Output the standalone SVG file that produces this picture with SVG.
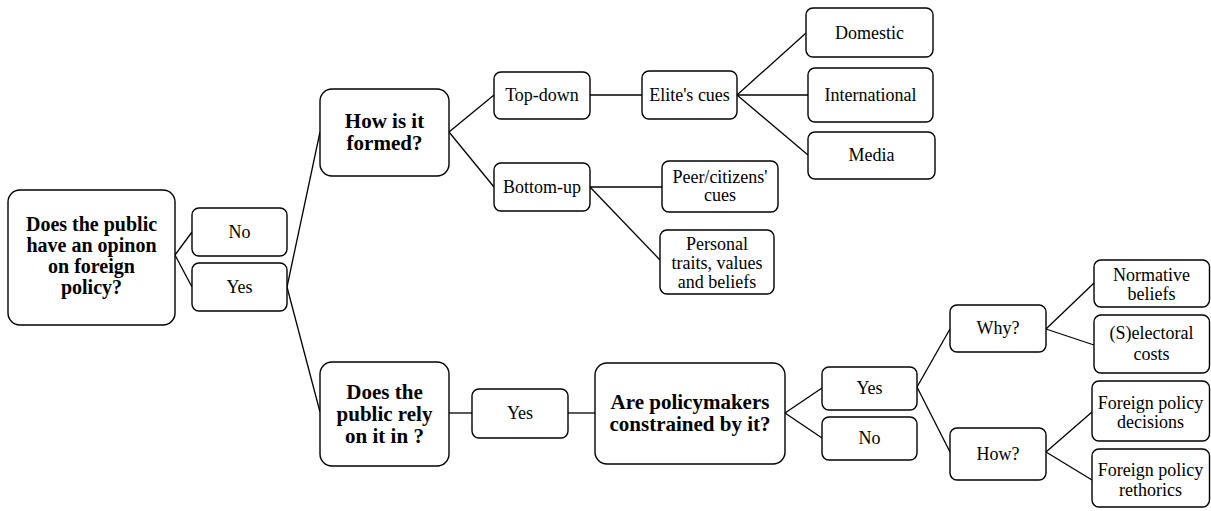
<svg xmlns="http://www.w3.org/2000/svg" width="1211" height="511" viewBox="0 0 1211 511">
<style>
rect{fill:#fff;stroke:#000;stroke-width:1.4}
text{font-family:'Liberation Serif','DejaVu Serif',serif;font-size:18px;text-anchor:middle;fill:#000}
.b{font-weight:bold;font-size:21px}
.m{font-size:20px}
#connectors line{stroke:#000;stroke-width:1.3}
</style>
<rect x="0" y="0" width="1211" height="511" style="fill:#fff;stroke:none"/>
<g id="connectors">
<line x1="175" y1="255" x2="192" y2="232"/>
<line x1="175" y1="255" x2="192" y2="287"/>
<line x1="287" y1="287" x2="320" y2="132"/>
<line x1="287" y1="287" x2="320" y2="412"/>
<line x1="449" y1="132" x2="494" y2="95"/>
<line x1="449" y1="132" x2="494" y2="187"/>
<line x1="590" y1="95" x2="642" y2="95"/>
<line x1="737" y1="95" x2="806" y2="33"/>
<line x1="737" y1="95" x2="808" y2="95"/>
<line x1="737" y1="95" x2="808" y2="155"/>
<line x1="590" y1="187" x2="662" y2="187"/>
<line x1="590" y1="187" x2="660" y2="260"/>
<line x1="449" y1="413" x2="472" y2="413"/>
<line x1="568" y1="413" x2="595" y2="413"/>
<line x1="785" y1="413" x2="822" y2="388"/>
<line x1="785" y1="413" x2="822" y2="438"/>
<line x1="917" y1="387" x2="950" y2="329"/>
<line x1="917" y1="387" x2="950" y2="452"/>
<line x1="1046" y1="329" x2="1094" y2="283"/>
<line x1="1046" y1="329" x2="1094" y2="345"/>
<line x1="1046" y1="452" x2="1092" y2="412"/>
<line x1="1046" y1="452" x2="1092" y2="480"/>
</g>
<g id="q-opinion"><rect x="8" y="190" width="167" height="135" rx="12"/>
<text class="b m" x="91.5" y="231">Does the public</text><text class="b m" x="91.5" y="252">have an opinon</text><text class="b m" x="91.5" y="273">on foreign</text><text class="b m" x="91.5" y="294">policy?</text></g>
<g id="no1"><rect x="192" y="208" width="95" height="48" rx="7"/><text x="239.5" y="238">No</text></g>
<g id="yes1"><rect x="192" y="263" width="95" height="48" rx="7"/><text x="239.5" y="293">Yes</text></g>
<g id="q-formed"><rect x="320" y="89" width="129" height="87" rx="12"/>
<text class="b" x="384.5" y="128">How is it</text><text class="b" x="384.5" y="150">formed?</text></g>
<g id="topdown"><rect x="494" y="72" width="96" height="47" rx="7"/><text x="542" y="101">Top-down</text></g>
<g id="bottomup"><rect x="494" y="163" width="96" height="48" rx="7"/><text x="542" y="193">Bottom-up</text></g>
<g id="elite"><rect x="642" y="71" width="95" height="48" rx="7"/><text x="689.5" y="101">Elite's cues</text></g>
<g id="domestic"><rect x="806" y="8" width="127" height="49" rx="7"/><text x="869.5" y="39">Domestic</text></g>
<g id="international"><rect x="808" y="68" width="125" height="54" rx="7"/><text x="870.5" y="101">International</text></g>
<g id="media"><rect x="808" y="132" width="127" height="47" rx="7"/><text x="871.5" y="161">Media</text></g>
<g id="peer"><rect x="662" y="161" width="116" height="51" rx="7"/><text x="720" y="183">Peer/citizens'</text><text x="720" y="201">cues</text></g>
<g id="personal"><rect x="660" y="230" width="114" height="64" rx="7"/><text x="717" y="250">Personal</text><text x="717" y="269">traits, values</text><text x="717" y="288">and beliefs</text></g>
<g id="q-rely"><rect x="320" y="362" width="129" height="104" rx="12"/>
<text class="b" x="384.5" y="399">Does the</text><text class="b" x="384.5" y="421">public rely</text><text class="b" x="384.5" y="443">on it in ?</text></g>
<g id="yes2"><rect x="472" y="389" width="96" height="49" rx="7"/><text x="520" y="419">Yes</text></g>
<g id="q-constrained"><rect x="595" y="363" width="190" height="101" rx="12"/>
<text class="b" x="690" y="409">Are policymakers</text><text class="b" x="690" y="431">constrained by it?</text></g>
<g id="yes3"><rect x="822" y="367" width="95" height="43" rx="7"/><text x="869.5" y="394">Yes</text></g>
<g id="no3"><rect x="822" y="417" width="95" height="43" rx="7"/><text x="869.5" y="444">No</text></g>
<g id="why"><rect x="950" y="305" width="96" height="47" rx="7"/><text x="998" y="334">Why?</text></g>
<g id="how"><rect x="950" y="428" width="96" height="52" rx="7"/><text x="998" y="460">How?</text></g>
<g id="normative"><rect x="1094" y="260" width="115.5" height="47" rx="7"/><text x="1151.5" y="281">Normative</text><text x="1151.5" y="300">beliefs</text></g>
<g id="selectoral"><rect x="1094" y="315" width="115.5" height="58" rx="7"/><text x="1151.5" y="339">(S)electoral</text><text x="1151.5" y="360">costs</text></g>
<g id="decisions"><rect x="1092" y="381" width="117.5" height="60" rx="7"/><text x="1150.5" y="409">Foreign policy</text><text x="1150.5" y="428">decisions</text></g>
<g id="rethorics"><rect x="1092" y="449" width="117.5" height="58" rx="7"/><text x="1150.5" y="476">Foreign policy</text><text x="1150.5" y="496">rethorics</text></g>
</svg>
